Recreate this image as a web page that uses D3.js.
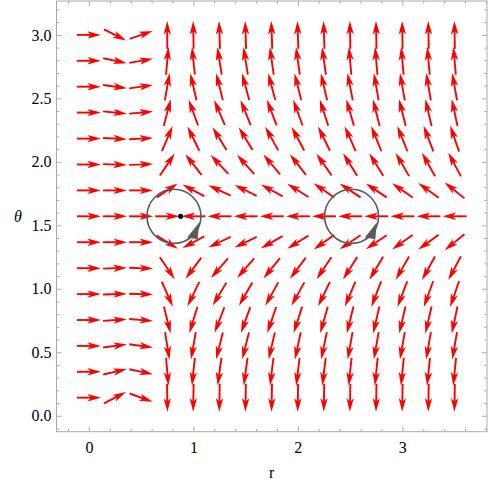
<!DOCTYPE html>
<html>
<head>
<meta charset="utf-8">
<script src="https://cdn.jsdelivr.net/npm/d3@7"></script>
<style>
  html, body { margin: 0; padding: 0; background: #fff; }
  svg { display: block; }
  text { font-family: "Liberation Serif", "Times New Roman", serif; }
</style>
</head>
<body>
<svg id="chart" width="490" height="487"></svg>
<script>
// ---- data ----
const rValues = [0, 0.25, 0.5, 0.75, 1.0, 1.25, 1.5, 1.75, 2.0, 2.25, 2.5, 2.75, 3.0, 3.25, 3.5];
const thetaValues = [3.000, 2.796, 2.592, 2.388, 2.183, 1.979, 1.775, 1.571, 1.367, 1.162, 0.958, 0.754, 0.550, 0.346, 0.142];
// arrow direction on screen, degrees (0 = right, 90 = up), one array per theta row (top to bottom)
const dirRow0  = [0, -27, 19, 90, 91, 92, 92, 92, 92, 92, 91, 91, 91, 91, 91];
const dirRow1  = [0, -12, 10, 85, 96, 99, 99, 98, 98, 98, 95, 95, 95, 95, 95];
const dirRow2  = [0, -8, 8, 80, 103, 104, 105, 105, 104, 103, 101, 100, 100, 100, 100];
const dirRow3  = [0, -6, 5, 75, 110, 113, 112, 111, 110, 108, 106, 104, 104, 103, 102];
const dirRow4  = [0, -3, 3, 67, 116, 122, 121, 119, 118, 116, 114, 112, 112, 111, 109];
const dirRow5  = [0, -2, 2, 56, 128, 133, 132, 130, 128, 125, 122, 122, 120, 119, 118];
const dirRow6  = [0, 0, 0, 34, 152, 155, 154, 151, 148, 145, 146, 146, 145, 144, 141];
const dirRow7  = [0, 0, 0, 0, 180, 180, 180, 180, 180, 180, 180, 180, 180, 180, 180];
const dirRow8  = [0, 0, 0, -32, -152, -155, -154, -151, -148, -145, -146, -146, -145, -144, -141];
const dirRow9  = [0, 2, -2, -56, -127, -131, -131, -129, -127, -124, -122, -121, -120, -119, -118];
const dirRow10 = [0, 2, -2, -66, -116, -121, -120, -119, -119, -116, -113, -111, -111, -110, -109];
const dirRow11 = [0, 4, -5, -76, -107, -111, -110, -109, -108, -106, -104, -103, -103, -103, -102];
const dirRow12 = [0, 8, -8, -81, -100, -104, -104, -103, -102, -102, -100, -100, -100, -100, -100];
const dirRow13 = [0, 13, -12, -85, -96, -98, -98, -97, -97, -97, -96, -96, -96, -96, -96];
const dirRow14 = [0, 27, -20, -89, -91, -91, -91, -91, -91, -91, -91, -91, -91, -91, -91];
const dirRows = [dirRow0, dirRow1, dirRow2, dirRow3, dirRow4, dirRow5, dirRow6, dirRow7,
                 dirRow8, dirRow9, dirRow10, dirRow11, dirRow12, dirRow13, dirRow14];

const circleR = [0.814, 2.514];
const circleTheta = [1.571, 1.571];
const dotR = [0.878];
const dotTheta = [1.571];

const xTicks = [0, 1, 2, 3];
const yTicks = [0.0, 0.5, 1.0, 1.5, 2.0, 2.5, 3.0];

// ---- layout ----
const svg = d3.select("#chart");
const L = 56.5, R = 487, T = 1, B = 431.7;
const x = d3.scaleLinear().domain([-0.31, 3.81]).range([L, R]);
const y = d3.scaleLinear().domain([-0.126, 3.267]).range([B, T]);

const frameColor = "#ababab";

// arrows
const ax = 24, by = 28; // screen half-lengths of ellipse (horizontal, vertical)
const arrows = [];
dirRows.forEach((row, i) => {
  row.forEach((deg, j) => {
    arrows.push({ r: rValues[j], t: thetaValues[i], deg });
  });
});
const gA = svg.append("g");
arrows.forEach(a => {
  const phi = a.deg * Math.PI / 180;
  const len = 1 / Math.sqrt(Math.pow(Math.cos(phi) / ax, 2) + Math.pow(Math.sin(phi) / by, 2));
  const h = len / 2;
  const g = gA.append("g")
    .attr("transform", `translate(${x(a.r)},${y(a.t)}) rotate(${-a.deg})`);
  g.append("line")
    .attr("x1", -h).attr("y1", 0).attr("x2", h - 8).attr("y2", 0)
    .attr("stroke", "#ff0000").attr("stroke-width", 1.9);
  g.append("path")
    .attr("d", `M${h},0 L${h - 13.5},3.7 L${h - 10},0 L${h - 13.5},-3.7 Z`)
    .attr("fill", "#ff0000");
});

// circles with direction arrowheads
const gC = svg.append("g");
const rad = 27;
circleR.forEach((cr, i) => {
  const cx = x(cr), cy = y(circleTheta[i]);
  gC.append("circle").attr("cx", cx).attr("cy", cy).attr("r", rad)
    .attr("fill", "none").attr("stroke", "#5a5a5a").attr("stroke-width", 1.6);
  const p = (angDeg, rr) => {
    const a = angDeg * Math.PI / 180;
    return [cx + rr * Math.cos(a), cy + rr * Math.sin(a)];
  };
  const tip = p(14, rad - 1), b1 = p(58, rad - 2), b2 = p(44, rad + 6);
  gC.append("path")
    .attr("d", `M${tip[0]},${tip[1]} L${b1[0]},${b1[1]} L${b2[0]},${b2[1]} Z`)
    .attr("fill", "#5a5a5a");
});
dotR.forEach((dr, i) => {
  gC.append("circle").attr("cx", x(dr)).attr("cy", y(dotTheta[i])).attr("r", 2.6).attr("fill", "#000");
});

// frame
svg.append("rect").attr("x", L).attr("y", T).attr("width", R - L).attr("height", B - T)
  .attr("fill", "none").attr("stroke", frameColor).attr("stroke-width", 1);

const xMinor = d3.range(-0.2, 3.81, 0.2).filter(v => Math.abs(v - Math.round(v)) > 1e-6);
const yMinor = d3.range(-0.1, 3.26, 0.1).filter(v => Math.abs(v * 2 - Math.round(v * 2)) > 1e-6);

function styleAxis(g) {
  g.select(".domain").remove();
  g.selectAll(".tick line").attr("stroke", frameColor);
  g.selectAll("text").attr("fill", "#000").style("font-size", "16px")
    .style("font-family", '"Liberation Serif", "Times New Roman", serif');
}

svg.append("g").attr("transform", `translate(0,${B})`)
  .call(d3.axisBottom(x).tickValues(xTicks).tickSize(-5).tickPadding(10).tickFormat(d3.format("d")))
  .call(styleAxis);
svg.append("g").attr("transform", `translate(0,${B})`)
  .call(d3.axisBottom(x).tickValues(xMinor).tickSize(-2.8).tickFormat(""))
  .call(styleAxis);
svg.append("g").attr("transform", `translate(0,${T})`)
  .call(d3.axisTop(x).tickValues(xTicks).tickSize(-5).tickFormat(""))
  .call(styleAxis);
svg.append("g").attr("transform", `translate(0,${T})`)
  .call(d3.axisTop(x).tickValues(xMinor).tickSize(-2.8).tickFormat(""))
  .call(styleAxis);

svg.append("g").attr("transform", `translate(${L},0)`)
  .call(d3.axisLeft(y).tickValues(yTicks).tickSize(-5).tickPadding(5).tickFormat(d3.format(".1f")))
  .call(styleAxis);
svg.append("g").attr("transform", `translate(${L},0)`)
  .call(d3.axisLeft(y).tickValues(yMinor).tickSize(-2.8).tickFormat(""))
  .call(styleAxis);
svg.append("g").attr("transform", `translate(${R},0)`)
  .call(d3.axisRight(y).tickValues(yTicks).tickSize(-5).tickFormat(""))
  .call(styleAxis);
svg.append("g").attr("transform", `translate(${R},0)`)
  .call(d3.axisRight(y).tickValues(yMinor).tickSize(-2.8).tickFormat(""))
  .call(styleAxis);

// axis labels
svg.append("text").attr("x", (L + R) / 2).attr("y", 478).attr("text-anchor", "middle")
  .style("font-size", "16px").text("r");
svg.append("text").attr("x", 18).attr("y", (T + B) / 2).attr("text-anchor", "middle")
  .attr("dominant-baseline", "central").style("font-size", "16px").style("font-style", "italic").text("θ");
</script>
</body>
</html>
